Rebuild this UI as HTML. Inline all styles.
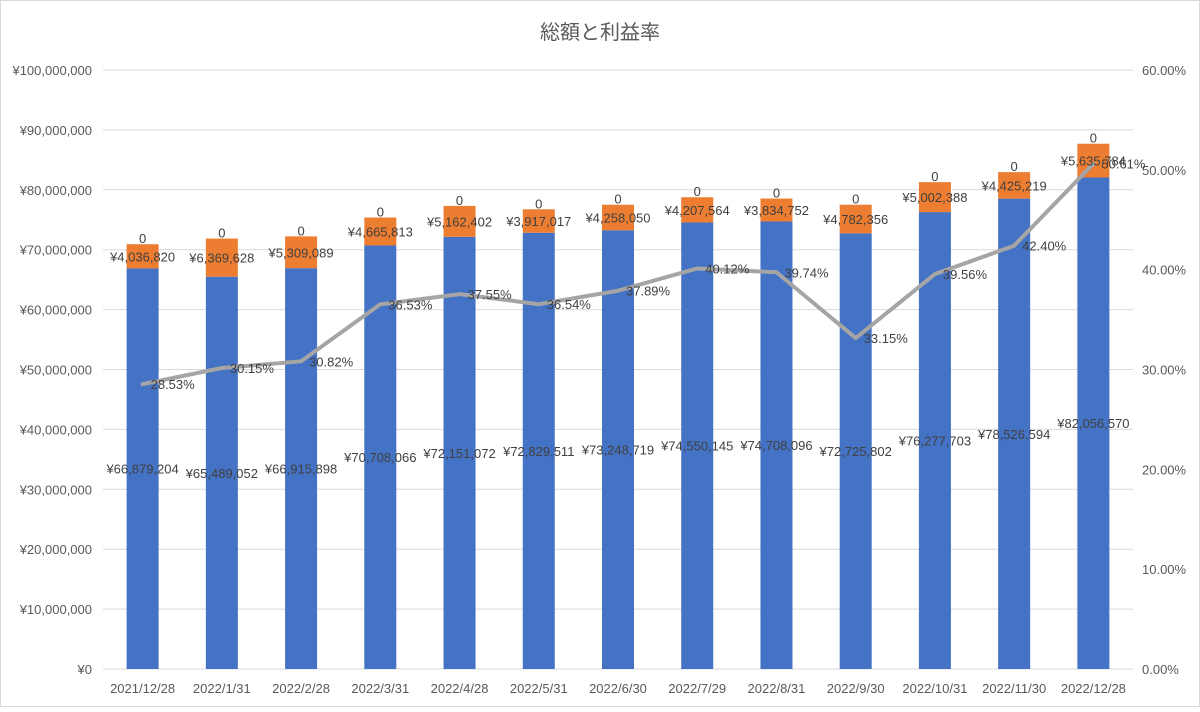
<!DOCTYPE html>
<html><head><meta charset="utf-8"><style>
body{margin:0;background:#fff}
svg text{font-family:"Liberation Sans","Noto Sans CJK JP",sans-serif}
</style></head><body>
<svg width="1200" height="707">
<rect x="0.5" y="0.5" width="1199" height="706" fill="#fff" stroke="#d9d9d9"/>
<text x="600" y="39" text-anchor="middle" font-size="20" fill="#595959">総額と利益率</text>
<g id="grid"></g><g id="bars"></g><g id="line"></g><g id="labels"></g>
</svg>
<script>
const categories=["2021/12/28","2022/1/31","2022/2/28","2022/3/31","2022/4/28","2022/5/31","2022/6/30","2022/7/29","2022/8/31","2022/9/30","2022/10/31","2022/11/30","2022/12/28"];
const baseValues=[66879204,65489052,66915898,70708066,72151072,72829511,73248719,74550145,74708096,72725802,76277703,78526594,82056570];
const profitValues=[4036820,6369628,5309089,4665813,5162402,3917017,4258050,4207564,3834752,4782356,5002388,4425219,5635784];
const zeroValues=[0,0,0,0,0,0,0,0,0,0,0,0,0];
const rates=[28.53,30.15,30.82,36.53,37.55,36.54,37.89,40.12,39.74,33.15,39.56,42.40,50.61];
const leftTicks=[0,10000000,20000000,30000000,40000000,50000000,60000000,70000000,80000000,90000000,100000000];
const rightTicks=[0,10,20,30,40,50,60];
const NS="http://www.w3.org/2000/svg";
const X0=103,X1=1133,Y0=669,Y1=70;
const bw=(X1-X0)/categories.length;
const xC=i=>X0+bw*(i+0.5);
const yL=v=>Y0-(v/100000000)*(Y0-Y1);
const yR=v=>Y0-(v/60)*(Y0-Y1);
function mk(p,t,a){const e=document.createElementNS(NS,t);for(const k in a)e.setAttribute(k,a[k]);p.appendChild(e);return e;}
const yen=v=>"¥"+v.toLocaleString("en-US");
const G=document.getElementById("grid"),B=document.getElementById("bars"),L=document.getElementById("line"),T=document.getElementById("labels");
leftTicks.forEach(v=>{const l=mk(G,"line",{x1:X0,x2:X1,y1:yL(v),y2:yL(v),stroke:"#d9d9d9"});


const t=mk(G,"text",{x:92,y:yL(v)+5,"text-anchor":"end","font-size":13,fill:"#595959"});t.textContent=yen(v);

});
rightTicks.forEach(v=>{const t=mk(G,"text",{x:1142,y:yR(v)+5,"font-size":13,fill:"#595959"});t.textContent=v.toFixed(2)+"%";

});
categories.forEach((c,i)=>{const t=mk(G,"text",{x:xC(i),y:693,"text-anchor":"middle","font-size":13,fill:"#595959"});t.textContent=c;


const bx=xC(i)-16;
const b=mk(B,"rect",{x:bx,y:yL(baseValues[i]),width:32,height:Y0-yL(baseValues[i]),fill:"#4472c4"});


const top=baseValues[i]+profitValues[i];
const o=mk(B,"rect",{x:bx,y:yL(top),width:32,height:yL(baseValues[i])-yL(top),fill:"#ed7d31"});


const t1=mk(T,"text",{x:xC(i),y:yL(baseValues[i]/2)+5,"text-anchor":"middle","font-size":13,fill:"#404040"});t1.textContent=yen(baseValues[i]);


const t2=mk(T,"text",{x:xC(i),y:yL(baseValues[i]+profitValues[i]/2)+5,"text-anchor":"middle","font-size":13,fill:"#404040"});t2.textContent=yen(profitValues[i]);


const t3=mk(T,"text",{x:xC(i),y:yL(top+zeroValues[i])-1,"text-anchor":"middle","font-size":13,fill:"#404040"});t3.textContent=String(zeroValues[i]);


const t4=mk(T,"text",{x:xC(i)+8,y:yR(rates[i])+5,"font-size":13,fill:"#404040"});t4.textContent=rates[i].toFixed(2)+"%";

});
const pl=mk(L,"polyline",{points:rates.map((r,i)=>xC(i)+","+yR(r)).join(" "),fill:"none",stroke:"#a5a5a5","stroke-width":4,"stroke-linejoin":"round","stroke-linecap":"round"});


</script>
</body></html>
